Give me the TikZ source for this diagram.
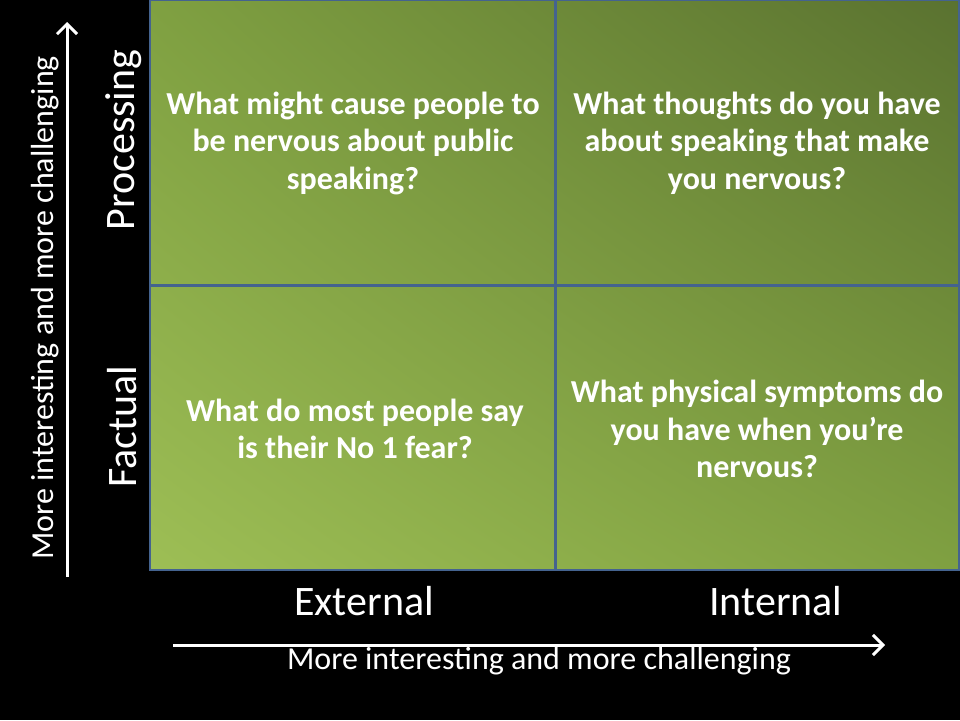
\documentclass[tikz,border=0pt]{standalone}
\usepackage{fontspec}
\setmainfont{Carlito}
\usetikzlibrary{arrows.meta,shadings}
\definecolor{gl}{HTML}{9DBE55}
\definecolor{gm}{HTML}{7FA041}
\definecolor{gd}{HTML}{5A7230}
\definecolor{bord}{HTML}{44638F}
\tikzset{
  question/.style={text=white, font=\fontsize{32}{37.5}\selectfont\bfseries, align=center},
  axislbl/.style={text=white, font=\fontsize{42}{46}\selectfont},
  note/.style={text=white, font=\fontsize{32}{36}\selectfont},
  axarrow/.style={draw=white, line width=3pt, -{Straight Barb[length=10pt,width=20pt,line width=3pt]}},
}
\begin{document}
\begin{tikzpicture}[x=1pt,y=-1pt]
\fill[black] (0,0) rectangle (960,720);
\useasboundingbox (0,0) rectangle (960,720);
\shade[upper left=gm, upper right=gd, lower left=gl, lower right=gm] (150,0) rectangle (959,570);
\draw[bord, line width=2pt] (150,0) rectangle (959,570);
\draw[bord, line width=3pt] (555,0) -- (555,570);
\draw[bord, line width=3pt] (150,285) -- (959,285);
\node[question] (q1) at (353,143) {What might cause people to\\ be nervous about public\\ speaking?};
\node[question] (q2) at (757,143) {What thoughts do you have\\ about speaking that make\\ you nervous?};
\node[question] (q3) at (355,429) {What do most people say\\ is their No 1 fear?};
\node[question] (q4) at (757,429) {What physical symptoms do\\ you have when you’re\\ nervous?};
\node[axislbl] (ext) at (364,601) {External};
\node[axislbl] (int) at (776,601) {Internal};
\node[axislbl, rotate=90] (proc) at (124,140) {Processing};
\node[axislbl, rotate=90] (fact) at (122,427) {Factual};
\node[note] (hl) at (539,661) {More interesting and more challenging};
\node[note, rotate=90] (vl) at (45,308) {More interesting and more challenging};
\coordinate (h0) at (173,645);
\coordinate (h1) at (885,645);
\coordinate (v0) at (67,577);
\coordinate (v1) at (67,22);
\draw[axarrow] (h0) -- (h1);
\draw[axarrow] (v0) -- (v1);
\end{tikzpicture}
\end{document}
